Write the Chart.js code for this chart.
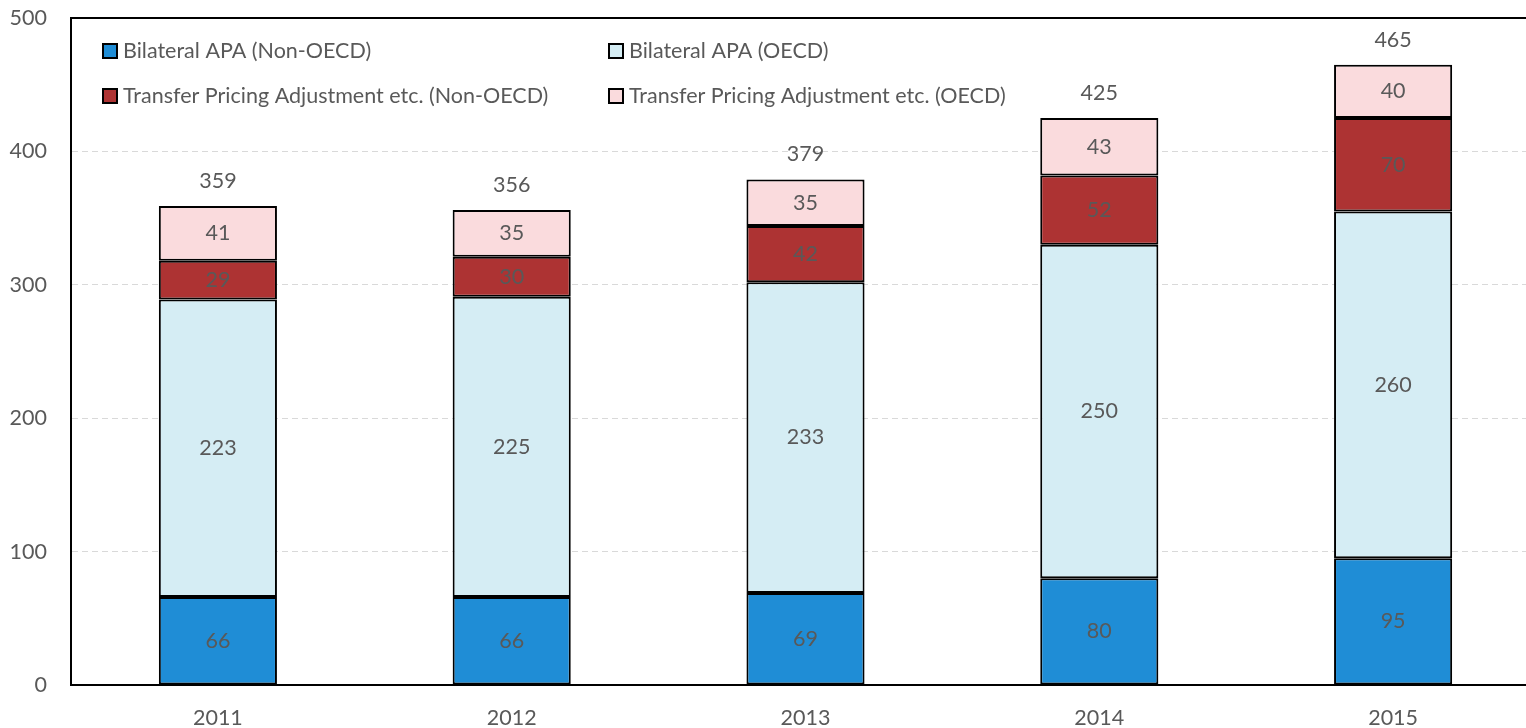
<!DOCTYPE html>
<html>
<head>
<meta charset="utf-8">
<script src="https://cdn.jsdelivr.net/npm/chart.js@4"></script>
<style>
  html, body { margin: 0; padding: 0; background: #fff; overflow: hidden; }
  #wrap { width: 1540px; height: 728px; }
</style>
</head>
<body>
<div id="wrap"><canvas id="chart" width="1540" height="728"></canvas></div>
<script>
// chart data
const years = ['2011', '2012', '2013', '2014', '2015'];
const apaNonOecd = [66, 66, 69, 80, 95];
const apaOecd = [223, 225, 233, 250, 260];
const tpNonOecd = [29, 30, 42, 52, 70];
const tpOecd = [41, 35, 35, 43, 40];
const yTicks = [0, 100, 200, 300, 400, 500];

const seriesNames = [
  'Bilateral APA (Non-OECD)',
  'Bilateral APA (OECD)',
  'Transfer Pricing Adjustment etc. (Non-OECD)',
  'Transfer Pricing Adjustment etc. (OECD)'
];
const colors = ['#1f8dd6', '#d5edf4', '#ad3333', '#fadbdd'];
const textGrey = '#595959';
const FONT = 'Lato, "Open Sans", sans-serif';
const FS = 21.5;

// value labels inside segments and totals on top
const labelsPlugin = {
  id: 'labels',
  afterDatasetsDraw(chart) {
    const ctx = chart.ctx;
    ctx.save();
    ctx.fillStyle = textGrey;
    ctx.font = FS + 'px ' + FONT;
    ctx.textAlign = 'center';
    ctx.textBaseline = 'middle';
    chart.data.datasets.forEach((ds, i) => {
      const meta = chart.getDatasetMeta(i);
      meta.data.forEach((bar, j) => {
        ctx.fillText(String(ds.data[j]), bar.x, (bar.y + bar.base) / 2);
      });
    });
    const last = chart.getDatasetMeta(chart.data.datasets.length - 1);
    last.data.forEach((bar, j) => {
      const total = chart.data.datasets.reduce((s, ds) => s + ds.data[j], 0);
      ctx.fillText(String(total), bar.x, bar.y - 25);
    });
    ctx.restore();
  }
};

// top frame line + legend inside the plot area
const framePlugin = {
  id: 'frame',
  afterDraw(chart) {
    const ctx = chart.ctx;
    const a = chart.chartArea;
    ctx.save();
    ctx.strokeStyle = '#000';
    ctx.lineWidth = 2;
    ctx.beginPath();
    ctx.moveTo(a.left, a.top);
    ctx.lineTo(chart.width, a.top);
    ctx.stroke();

    const pos = [[32, 33], [538, 33], [32, 78], [538, 78]];
    ctx.font = FS + 'px ' + FONT;
    ctx.textBaseline = 'middle';
    ctx.textAlign = 'left';
    seriesNames.forEach((name, i) => {
      const x = a.left + pos[i][0];
      const y = a.top + pos[i][1];
      ctx.fillStyle = colors[i];
      ctx.fillRect(x, y - 7, 14, 14);
      ctx.lineWidth = 2;
      ctx.strokeStyle = '#000';
      ctx.strokeRect(x, y - 7, 14, 14);
      ctx.fillStyle = textGrey;
      ctx.fillText(name, x + 20, y);
    });
    ctx.restore();
  }
};

const datasets = [apaNonOecd, apaOecd, tpNonOecd, tpOecd].map((d, i) => ({
  label: seriesNames[i],
  data: d,
  backgroundColor: colors[i],
  borderColor: '#000',
  borderWidth: 2,
  borderSkipped: false,
  barPercentage: 0.402,
  categoryPercentage: 1
}));

new Chart(document.getElementById('chart'), {
  type: 'bar',
  data: { labels: years, datasets },
  plugins: [labelsPlugin, framePlugin],
  options: {
    responsive: false,
    animation: false,
    layout: { padding: { top: 18, right: 0, bottom: 0, left: 0 } },
    plugins: { legend: { display: false }, tooltip: { enabled: false } },
    scales: {
      x: {
        stacked: true,
        grid: { display: false, drawTicks: false },
        border: { color: '#000', width: 2 },
        ticks: { color: textGrey, font: { family: FONT, size: FS }, padding: 20 },
        afterFit(scale) { scale.height = 43; }
      },
      y: {
        stacked: true,
        min: 0,
        max: 500,
        afterBuildTicks(scale) { scale.ticks = yTicks.map(v => ({ value: v })); },
        grid: { color: '#d9d9d9', lineWidth: 1, drawTicks: false },
        border: { color: '#000', width: 2, dash: [6, 4] },
        ticks: { color: textGrey, font: { family: FONT, size: FS }, padding: 24 },
        afterFit(scale) { scale.width = 71; scale.paddingTop = 0; scale.paddingBottom = 0; }
      }
    }
  }
});
</script>
</body>
</html>
